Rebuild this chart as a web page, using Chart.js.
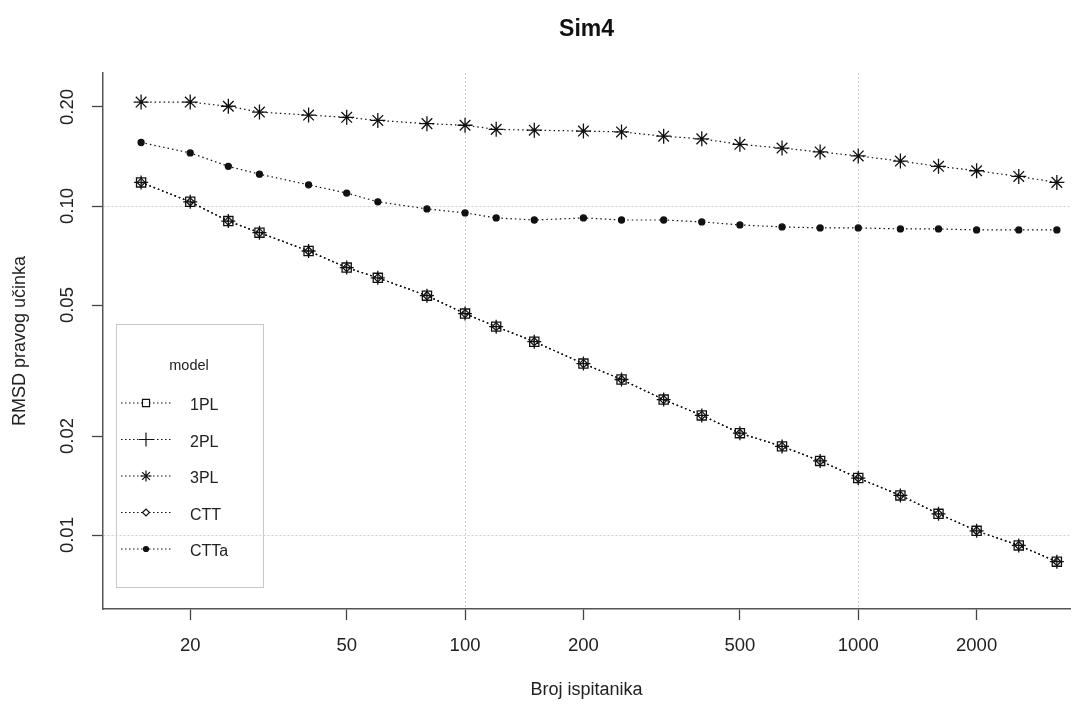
<!DOCTYPE html>
<html>
<head>
<meta charset="utf-8">
<script src="https://cdn.jsdelivr.net/npm/chart.js@4.4.1/dist/chart.umd.min.js"></script>
<style>
  html, body { margin: 0; padding: 0; background: #fff; }
  #wrap { width: 1079px; height: 706px; }
</style>
</head>
<body>
<div id="wrap"><canvas id="rmsd-chart"></canvas></div>
<script>
// sample sizes (x) and RMSD per model (y)
const sampleSizes = [15, 20, 25, 30, 40, 50, 60, 80, 100, 120, 150, 200, 250, 320, 400, 500, 640, 800, 1000, 1280, 1600, 2000, 2560, 3200];
const rmsd1PL = [0.118, 0.103, 0.090, 0.083, 0.073, 0.065, 0.0605, 0.0534, 0.0471, 0.043, 0.0387, 0.0332, 0.0297, 0.0258, 0.0231, 0.0204, 0.0186, 0.0168, 0.0149, 0.0132, 0.0116, 0.0103, 0.0093, 0.0083];
const rmsd2PL = [0.118, 0.103, 0.090, 0.083, 0.073, 0.065, 0.0605, 0.0534, 0.0471, 0.043, 0.0387, 0.0332, 0.0297, 0.0258, 0.0231, 0.0204, 0.0186, 0.0168, 0.0149, 0.0132, 0.0116, 0.0103, 0.0093, 0.0083];
const rmsd3PL = [0.207, 0.207, 0.201, 0.193, 0.189, 0.186, 0.182, 0.178, 0.176, 0.171, 0.170, 0.169, 0.168, 0.163, 0.160, 0.154, 0.150, 0.146, 0.142, 0.137, 0.132, 0.128, 0.123, 0.118];
const rmsdCTT = [0.118, 0.103, 0.090, 0.083, 0.073, 0.065, 0.0605, 0.0534, 0.0471, 0.043, 0.0387, 0.0332, 0.0297, 0.0258, 0.0231, 0.0204, 0.0186, 0.0168, 0.0149, 0.0132, 0.0116, 0.0103, 0.0093, 0.0083];
const rmsdCTTa = [0.156, 0.145, 0.132, 0.125, 0.116, 0.1095, 0.103, 0.098, 0.0953, 0.092, 0.0907, 0.092, 0.0907, 0.0907, 0.0895, 0.0876, 0.0864, 0.0858, 0.0858, 0.0852, 0.0852, 0.0846, 0.0846, 0.0846];

const modelNames = ["1PL", "2PL", "3PL", "CTT", "CTTa"];
const xTicks = [20, 50, 100, 200, 500, 1000, 2000];
const yTicks = [0.01, 0.02, 0.05, 0.1, 0.2];
const xGridAt = [100, 1000];
const yGridAt = [0.01, 0.1];

const FONT = "Arial, 'Liberation Sans', sans-serif";
const INK = "#111";

// marker look per model (R pch 0, 3, 8, 5, 20)
const markers = [
  { style: "rect", radius: 6.5, legendRadius: 5, fill: "rgba(0,0,0,0)" },
  { style: "cross", radius: 7, legendRadius: 7, fill: "rgba(0,0,0,0)" },
  { style: "star", radius: 7.5, legendRadius: 5.5, fill: "rgba(0,0,0,0)" },
  { style: "rectRot", radius: 4, legendRadius: 3.5, fill: "rgba(0,0,0,0)" },
  { style: "circle", radius: 3, legendRadius: 2.5, fill: INK },
];

const seriesValues = [rmsd1PL, rmsd2PL, rmsd3PL, rmsdCTT, rmsdCTTa];

const datasets = modelNames.map((name, i) => ({
  label: name,
  data: sampleSizes.map((n, j) => ({ x: n, y: seriesValues[i][j] })),
  borderColor: INK,
  borderWidth: 1.2,
  borderDash: [1.5, 3],
  pointStyle: markers[i].style,
  pointRadius: markers[i].radius,
  pointBorderWidth: 1.3,
  pointBorderColor: INK,
  pointBackgroundColor: markers[i].fill,
  tension: 0,
  fill: false,
}));

// title, axis titles and the legend box
const decorations = {
  id: "decorations",
  afterDraw(chart) {
    const { ctx, chartArea } = chart;
    const cx = (chartArea.left + chartArea.right) / 2;
    const cy = (chartArea.top + chartArea.bottom) / 2;
    ctx.save();
    ctx.fillStyle = INK;
    ctx.textAlign = "center";
    ctx.textBaseline = "middle";

    ctx.font = "bold 23px " + FONT;
    ctx.fillText("Sim4", cx, 30);

    ctx.font = "18px " + FONT;
    ctx.fillStyle = "#222";
    ctx.fillText("Broj ispitanika", cx, 690);

    ctx.save();
    ctx.translate(20, cy);
    ctx.rotate(-Math.PI / 2);
    ctx.fillText("RMSD pravog učinka", 0, 0);
    ctx.restore();

    // legend
    ctx.strokeStyle = "#c8c8c8";
    ctx.lineWidth = 1;
    ctx.strokeRect(116.5, 324.5, 147, 263);
    ctx.fillStyle = "#222";
    ctx.font = "14.5px " + FONT;
    ctx.fillText("model", 189, 366);

    ctx.font = "16px " + FONT;
    ctx.textAlign = "left";
    modelNames.forEach((name, i) => {
      const y = 403 + i * 36.5;
      ctx.save();
      ctx.strokeStyle = INK;
      ctx.lineWidth = 1.1;
      ctx.setLineDash([1.5, 2.5]);
      ctx.beginPath();
      ctx.moveTo(121, y);
      ctx.lineTo(171, y);
      ctx.stroke();
      ctx.restore();
      ctx.save();
      ctx.strokeStyle = INK;
      ctx.fillStyle = markers[i].style === "circle" ? INK : "#fff";
      ctx.lineWidth = 1.2;
      Chart.helpers.drawPoint(ctx, {
        pointStyle: markers[i].style,
        radius: markers[i].legendRadius,
        rotation: 0,
        borderWidth: 1.2,
      }, 146, y);
      ctx.restore();
      ctx.fillStyle = "#222";
      ctx.fillText(name, 190, y + 3);
    });
    ctx.restore();
  },
};

const gridColor = (at) => (c) =>
  c.tick && at.some((v) => Math.abs(v - c.tick.value) / v < 1e-6) ? "#d0d0d0" : "rgba(0,0,0,0)";

new Chart(document.getElementById("rmsd-chart"), {
  type: "line",
  data: { datasets },
  options: {
    responsive: true,
    maintainAspectRatio: false,
    animation: false,
    layout: { padding: { top: 73, right: 4, left: 0, bottom: 0 } },
    plugins: {
      legend: { display: false },
      title: { display: false },
      tooltip: { enabled: false },
    },
    scales: {
      x: {
        type: "logarithmic",
        min: 12,
        max: 3460,
        afterBuildTicks: (scale) => {
          scale.ticks = xTicks.map((v) => ({ value: v }));
        },
        afterFit: (scale) => {
          scale.height = 97;
        },
        ticks: {
          autoSkip: false,
          maxRotation: 0,
          padding: 15,
          color: "#222",
          font: { family: FONT, size: 18.5 },
          callback: (v) => String(v),
        },
        grid: {
          color: gridColor(xGridAt),
          lineWidth: 1,
          tickLength: 11,
          tickColor: "#444",
          tickWidth: 1.3,
          tickBorderDash: [],
        },
        border: { display: true, color: "#555", width: 1.5, dash: [2, 2] },
      },
      y: {
        type: "logarithmic",
        min: 0.00596,
        max: 0.2537,
        afterBuildTicks: (scale) => {
          scale.ticks = yTicks.map((v) => ({ value: v }));
        },
        afterFit: (scale) => {
          scale.width = 103;
        },
        ticks: {
          autoSkip: false,
          minRotation: 90,
          maxRotation: 90,
          crossAlign: "center",
          padding: 6.5,
          color: "#222",
          font: { family: FONT, size: 18.5 },
          callback: (v) => Number(v).toFixed(2),
        },
        grid: {
          color: gridColor(yGridAt),
          lineWidth: 1,
          tickLength: 11,
          tickColor: "#444",
          tickWidth: 1.3,
          tickBorderDash: [],
        },
        border: { display: true, color: "#555", width: 1.5, dash: [2, 2] },
      },
    },
  },
  plugins: [decorations],
});
</script>
</body>
</html>
